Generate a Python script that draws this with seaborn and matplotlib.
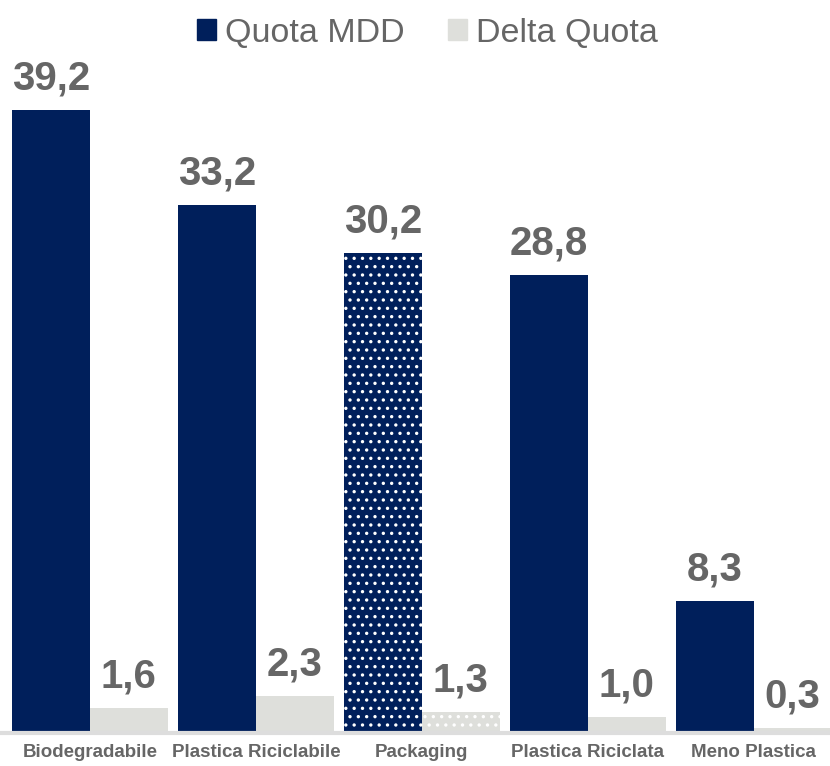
import matplotlib
matplotlib.use("Agg")
import matplotlib.pyplot as plt
import seaborn as sns
import pandas as pd

# data
categories = ["Biodegradabile", "Plastica Riciclabile", "Packaging", "Plastica Riciclata", "Meno Plastica"]
quota_mdd = [39.2, 33.2, 30.2, 28.8, 8.3]
delta_quota = [1.6, 2.3, 1.3, 1.0, 0.3]
series = ["Quota MDD", "Delta Quota"]

NAVY = "#001F5B"
LIGHT = "#DEDFDB"
TEXT = "#666666"

df = pd.DataFrame({
    "categoria": categories * 2,
    "valore": quota_mdd + delta_quota,
    "serie": [series[0]] * len(categories) + [series[1]] * len(categories),
})

sns.set_style("white")
plt.rcParams["font.family"] = ["Liberation Sans", "DejaVu Sans"]
plt.rcParams["hatch.linewidth"] = 1.2

fig = plt.figure(figsize=(8.3, 7.66), dpi=100)
ax = fig.add_axes([0.0, 0.043, 1.0, 0.957])

sns.barplot(data=df, x="categoria", y="valore", hue="serie",
            palette=[NAVY, LIGHT], width=0.94, saturation=1,
            linewidth=0, ax=ax, legend=False)

# dotted pattern on the Packaging bars
for cont in ax.containers:
    bar = cont[categories.index("Packaging")]
    bar.set_hatch("..")
    bar.set_edgecolor("white")
    bar.set_linewidth(0)

for cont in ax.containers:
    ax.bar_label(cont, labels=[f"{v:.1f}".replace(".", ",") for v in cont.datavalues],
                 padding=9, fontsize=29, fontweight="bold", color=TEXT)

ax.set_xlim(-0.542, 4.46)
ax.set_ylim(0, 46.1)
ax.set_xlabel("")
ax.set_ylabel("")
ax.set_yticks([])
ax.tick_params(axis="x", length=0, pad=8)
for lbl in ax.get_xticklabels():
    lbl.set_fontweight("bold")
    lbl.set_fontsize(13.5)
    lbl.set_color(TEXT)

for s in ["top", "left", "right"]:
    ax.spines[s].set_visible(False)
ax.spines["bottom"].set_color("#DDDDDD")
ax.spines["bottom"].set_linewidth(3)

handles = [plt.Rectangle((0, 0), 1, 1, color=NAVY), plt.Rectangle((0, 0), 1, 1, color=LIGHT)]
fig.legend(handles, series, loc="upper center", bbox_to_anchor=(0.515, 1.017), ncol=2,
           frameon=False, fontsize=24.5, labelcolor=TEXT, handlelength=0.55, handleheight=0.55,
           handletextpad=0.25, columnspacing=1.3)

fig.savefig("out.png", dpi=100)
